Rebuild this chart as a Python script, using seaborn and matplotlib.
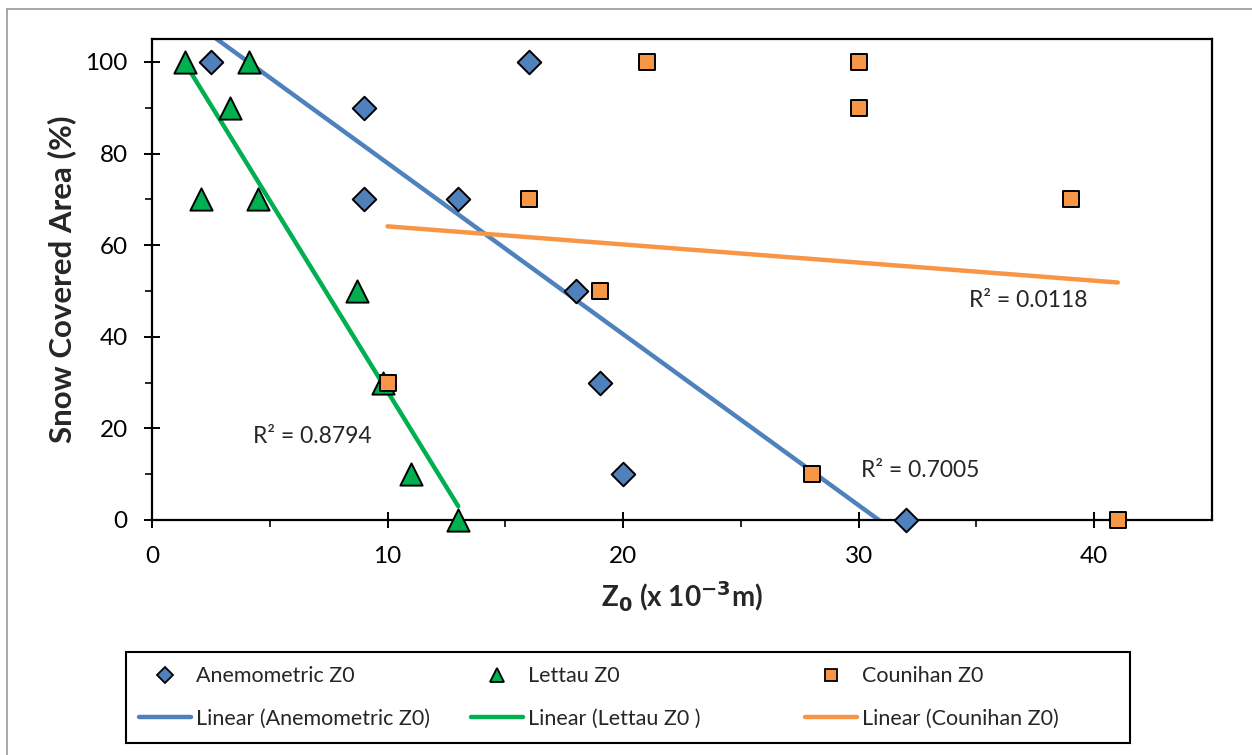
import numpy as np
import pandas as pd
import seaborn as sns
import matplotlib
matplotlib.use('Agg')
from matplotlib import pyplot as plt
from matplotlib.lines import Line2D
from matplotlib.patches import Rectangle

# data
anem_x = [2.5, 9, 9, 13, 16, 18, 19, 20, 32]
anem_y = [100, 90, 70, 70, 100, 50, 30, 10, 0]
lett_x = [1.4, 4.1, 3.3, 2.1, 4.5, 8.7, 9.8, 11, 13]
lett_y = [100, 100, 90, 70, 70, 50, 30, 10, 0]
coun_x = [21, 30, 30, 16, 39, 19, 10, 28, 41]
coun_y = [100, 100, 90, 70, 70, 50, 30, 10, 0]
r2_labels = ['R² = 0.7005', 'R² = 0.8794', 'R² = 0.0118']

blue = '#4F81BD'
green = '#00B050'
orange = '#F79646'

W, H = 1252, 755

sns.set_style('ticks')
plt.rcParams['font.family'] = ['Lato', 'DejaVu Sans']

fig = plt.figure(figsize=(W / 100, H / 100), dpi=100)
ax = fig.add_axes([152 / W, 1 - 520 / H, (1212 - 152) / W, (520 - 39) / H])

series = [
    ('Anemometric Z0', 'Linear (Anemometric Z0)', anem_x, anem_y, blue, 'D', 12, 8),
    ('Lettau Z0', 'Linear (Lettau Z0 )', lett_x, lett_y, green, '^', 16, 10),
    ('Counihan Z0', 'Linear (Counihan Z0)', coun_x, coun_y, orange, 's', 11, 9),
]

leg_x = [139, 471, 805]
for i, (name, lin_name, xs, ys, col, mk, ms, lms) in enumerate(series):
    df = pd.DataFrame({'x': xs, 'y': ys})
    sns.regplot(data=df, x='x', y='y', ax=ax, scatter=False, ci=None,
                truncate=True, color=col, line_kws={'lw': 3.2, 'zorder': 2})
    sns.scatterplot(data=df, x='x', y='y', ax=ax, color=col, marker=mk,
                    s=ms ** 2, edgecolor='black', linewidth=1.4, zorder=3,
                    clip_on=False)
    hs = [Line2D([], [], ls='none', marker=mk, markersize=lms,
                 markerfacecolor=col, markeredgecolor='black',
                 markeredgewidth=1.3, label=name),
          Line2D([], [], color=col, lw=3.2, label=lin_name)]
    # one legend per column, like the Excel layout
    fig.legend(handles=hs, loc='center left',
               bbox_to_anchor=(leg_x[i] / W, 1 - 697.5 / H),
               bbox_transform=fig.transFigure, frameon=False,
               fontsize=15.5, handlelength=2.4, handletextpad=0.25,
               borderpad=0, borderaxespad=0, labelspacing=1.05)

fig.add_artist(Rectangle((126 / W, 1 - 743 / H), (1130 - 126) / W,
                         (743 - 652) / H, transform=fig.transFigure,
                         fill=False, edgecolor='black', lw=1.5))

ax.set_xlim(0, 45)
ax.set_ylim(0, 105)
ax.set_xticks([0, 10, 20, 30, 40])
ax.set_xticks([5, 15, 25, 35], minor=True)
ax.set_yticks([0, 20, 40, 60, 80, 100])
ax.set_yticks([10, 30, 50, 70, 90], minor=True)
ax.tick_params(which='major', direction='inout', length=11, width=1.4,
               labelsize=17.5, colors='black')
ax.tick_params(axis='y', which='major', pad=12)
ax.tick_params(axis='x', which='major', pad=13)
ax.tick_params(which='minor', direction='out', length=5, width=1.4)
for sp in ax.spines.values():
    sp.set_visible(True)
    sp.set_color('black')
    sp.set_linewidth(1.6)

ax.set_xlabel('Z$_\\mathbf{0}$ (x 10$^\\mathbf{-3}$m)', fontsize=20,
              fontweight='bold')
ax.set_ylabel('Snow Covered Area (%)', fontsize=22.5, fontweight='bold')
ax.xaxis.set_label_coords(0.5, (520 - 580) / 481)
ax.yaxis.set_label_coords((76 - 152) / 1060, 0.5)

ax.text(30.1, 10.9, r2_labels[0], fontsize=16.5, va='center', ha='left')
ax.text(4.3, 18.3, r2_labels[1], fontsize=16.5, va='center', ha='left')
ax.text(34.7, 47.9, r2_labels[2], fontsize=16.5, va='center', ha='left')

# outer chart border
fig.add_artist(Line2D([7 / W, 7 / W], [0, 1 - 9 / H],
                      transform=fig.transFigure, color='#999999', lw=1.2))
fig.add_artist(Line2D([7 / W, 1], [1 - 9 / H, 1 - 9 / H],
                      transform=fig.transFigure, color='#999999', lw=1.2))

fig.savefig('out.png', dpi=100)
